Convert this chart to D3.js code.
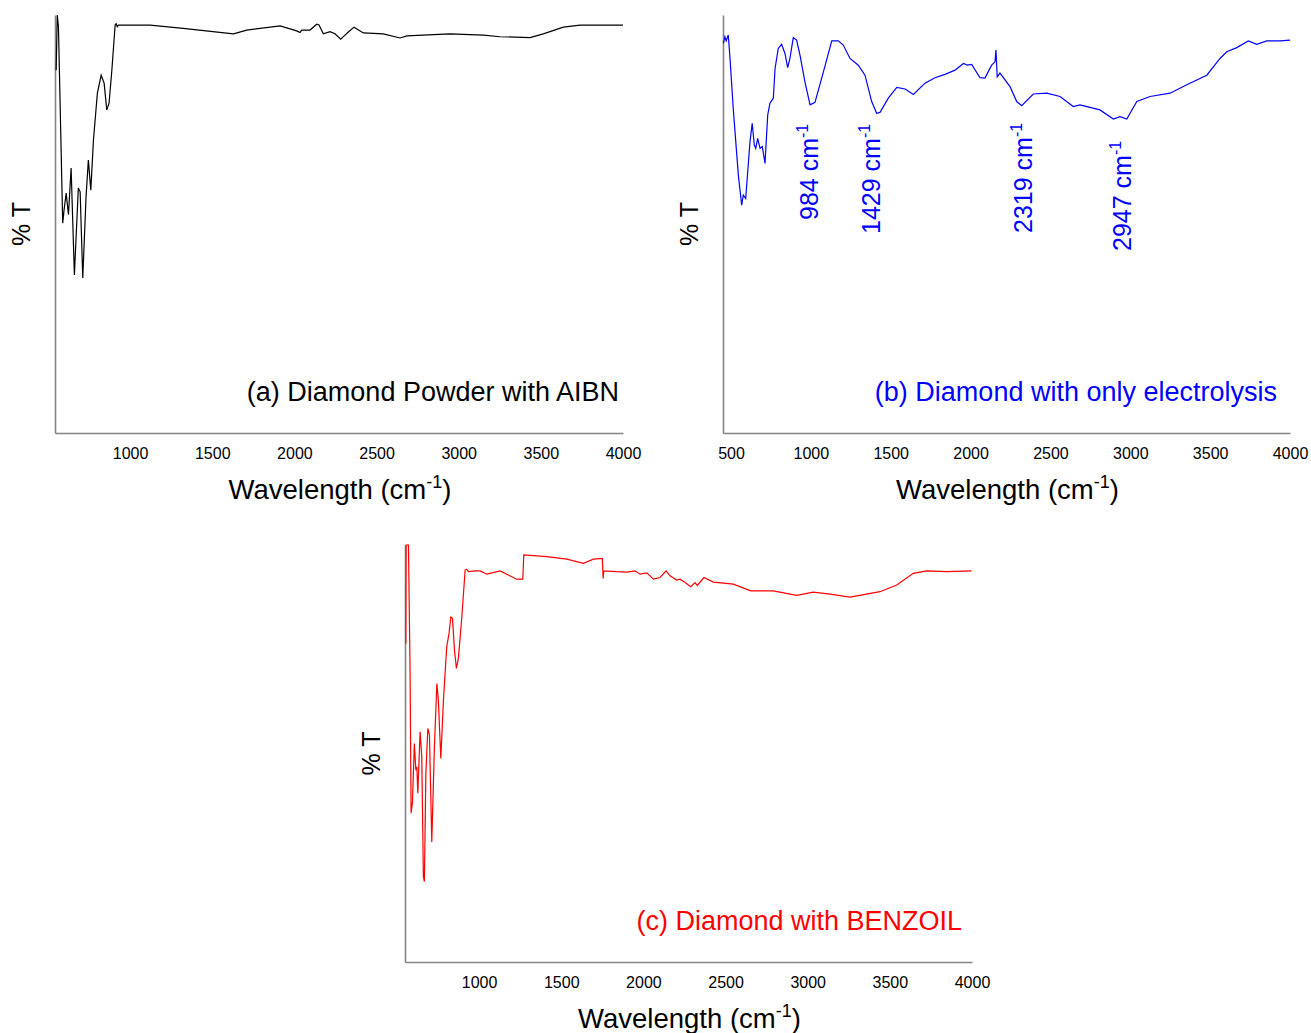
<!DOCTYPE html>
<html>
<head>
<meta charset="utf-8">
<script src="https://cdn.jsdelivr.net/npm/d3@7"></script>
<style>
  body { margin: 0; background: #fff; }
  svg { display: block; font-family: "Liberation Sans", Arial, sans-serif; }
</style>
</head>
<body>
<svg width="1311" height="1033"></svg>
<script>
const width = 1311;
const height = 1033;

// (a) Diamond Powder with AIBN
const aWave = [550, 557, 564, 590, 598, 611, 625, 641, 661, 685, 696, 712, 732, 746, 761, 777, 801, 824, 842, 858, 872, 889, 909, 915, 922, 929,
  1122, 1323, 1629, 1710, 1913, 2014, 2034, 2045, 2095, 2136, 2150, 2176, 2217, 2247, 2282, 2308, 2330, 2363, 2420, 2541, 2643, 2684,
  2947, 3150, 3252, 3434, 3515, 3637, 3739, 4000];
const aT = [86.8, 100, 97.2, 50.2, 53.3, 57.4, 52.2, 63.4, 37.8, 58.6, 57.7, 37.1, 56.5, 65.3, 58.1, 70.1, 81.3, 85.6, 83.7, 77.3, 78.9, 86.8, 97.6, 97.9, 97.2, 97.6,
  97.6, 96.8, 95.5, 96.4, 97.4, 96.2, 95.8, 96.4, 96.4, 97.8, 97.6, 95.5, 96.0, 95.5, 94.2, 95.2, 96.0, 97.1, 95.7, 95.5, 94.5, 95.0,
  95.5, 95.2, 94.8, 94.6, 95.5, 97.1, 97.6, 97.6];

// (b) Diamond with only electrolysis
const bWave = [452, 462, 470, 483, 494, 514, 546, 567, 577, 592, 608, 619, 633, 646, 655, 667, 682, 696, 713, 730, 744, 765, 776, 796, 817, 838, 855, 869, 890, 911,
  932, 963, 995, 1026, 1068, 1131, 1172, 1203, 1245, 1297, 1339, 1381, 1412, 1433, 1485, 1538, 1590, 1642, 1715, 1777, 1840, 1903, 1955, 1980, 2007,
  2059, 2090, 2132, 2153, 2159, 2167, 2184, 2248, 2289, 2320, 2393, 2477, 2560, 2643, 2685, 2810, 2894, 2936, 2978, 3041, 3124, 3249, 3354, 3479,
  3562, 3604, 3667, 3739, 3792, 3854, 3938, 4000];
const bT = [93.2, 94.8, 93.8, 95.2, 89.6, 77.7, 61.7, 54.5, 56.9, 56.1, 64.1, 69.7, 74.1, 68.9, 68.1, 70.5, 68.1, 68.5, 64.5, 76.1, 78.9, 80.1, 87.2, 92.0, 93.0, 90.8, 87.4, 89.6, 94.6, 94.0,
  90.4, 84.0, 78.5, 79.1, 84.9, 93.8, 93.8, 92.8, 89.6, 88.0, 85.6, 79.3, 76.5, 76.7, 80.1, 82.7, 82.3, 81.0, 83.7, 85.0, 85.8, 86.8, 88.4, 88.0, 88.2,
  85.0, 84.9, 88.0, 88.8, 91.6, 85.2, 86.1, 82.8, 79.3, 78.3, 81.1, 81.3, 80.5, 78.1, 78.5, 77.3, 75.1, 75.7, 75.1, 79.3, 80.5, 81.3, 83.3, 85.6,
  89.6, 91.2, 92.2, 93.8, 93.0, 93.8, 93.8, 94.0];

// (c) Diamond with BENZOIL
const cWave = [554, 556, 570, 580, 586, 594, 606, 615, 621, 627, 641, 651, 661, 667, 676, 688, 698, 712, 728, 743, 752, 767, 783, 803, 817, 828, 838, 850, 862, 874,
  895, 915, 925, 935, 976, 1006, 1047, 1128, 1229, 1266, 1272, 1412, 1534, 1635, 1696, 1750, 1755, 1759, 1838, 1899, 1949, 1980, 2021, 2061, 2101,
  2138, 2162, 2203, 2223, 2254, 2288, 2314, 2328, 2369, 2426, 2548, 2653, 2791, 2933, 3034, 3136, 3258, 3440, 3542, 3643, 3724, 3846, 3998];
const cT = [76.4, 100, 100, 69.3, 35.7, 38.1, 52.4, 46.0, 46.8, 40.5, 55.2, 49.2, 20.5, 19.3, 45.3, 56.0, 54.4, 28.8, 51.6, 66.8, 62.8, 48.8, 62.8, 75.6, 78.8, 82.7, 82.4, 74.8, 70.4, 72.8,
  82.8, 94.0, 94.2, 93.6, 93.8, 93.8, 93.0, 93.8, 91.8, 91.8, 97.6, 97.2, 96.6, 95.6, 96.6, 96.8, 92.0, 93.8, 93.6, 93.5, 93.8, 93.0, 93.3, 91.8, 92.2,
  93.8, 92.6, 91.6, 91.8, 91.0, 90.0, 91.0, 90.3, 92.2, 91.1, 90.6, 89.0, 89.0, 87.9, 88.7, 88.2, 87.5, 88.8, 90.4, 93.2, 93.8, 93.6, 93.8];

const ticksAC = [1000, 1500, 2000, 2500, 3000, 3500, 4000];
const ticksB = [500, 1000, 1500, 2000, 2500, 3000, 3500, 4000];

const peakWaves = [984, 1429, 2319, 2947];
const peakNames = ["984", "1429", "2319", "2947"];

const svg = d3.select("svg");

function drawPanel(p) {
    const x = d3.scaleLinear().domain(p.xDomain).range([p.left, p.right]);
    const y = d3.scaleLinear().domain([0, 100]).range([p.bottom, p.top]);
    const g = svg.append("g");

    const xAxis = g.append("g")
        .attr("transform", `translate(0,${p.bottom})`)
        .call(d3.axisBottom(x).tickValues(p.ticks).tickSize(0).tickSizeOuter(0).tickPadding(15).tickFormat(d3.format("d")));
    xAxis.select(".domain").attr("stroke", "#858585").attr("stroke-width", 1.6);
    xAxis.selectAll("text").attr("font-size", 16).attr("fill", "#000").attr("font-family", "Liberation Sans, Arial, sans-serif");

    const yAxis = g.append("g")
        .attr("transform", `translate(${p.left},0)`)
        .call(d3.axisLeft(y).tickValues([]).tickSizeOuter(0));
    yAxis.select(".domain").attr("stroke", "#858585").attr("stroke-width", 1.6);

    const line = d3.line()
        .x((d, i) => x(p.wave[i]))
        .y(d => y(d));
    g.append("path")
        .datum(p.vals)
        .attr("fill", "none")
        .attr("stroke", p.color)
        .attr("stroke-width", 1.2)
        .attr("d", line);

    // x title
    const t = g.append("text")
        .attr("x", (p.left + p.right) / 2 + 1)
        .attr("y", p.bottom + 66)
        .attr("text-anchor", "middle")
        .attr("font-size", 27.5)
        .text("Wavelength (cm");
    t.append("tspan").attr("font-size", 18).attr("dy", -11).text("-1");
    t.append("tspan").attr("dy", 11).text(")");

    // y title
    g.append("text")
        .attr("transform", `translate(${p.left - 25},${(p.top + p.bottom) / 2}) rotate(-90)`)
        .attr("text-anchor", "middle")
        .attr("font-size", 25)
        .text("% T");

    g.append("text")
        .attr("x", p.labelX)
        .attr("y", p.bottom - 32)
        .attr("text-anchor", "end")
        .attr("font-size", 27)
        .attr("fill", p.color)
        .text(p.label);

    return x;
}

drawPanel({ left: 55, right: 623, top: 15, bottom: 433, xDomain: [543, 4000], ticks: ticksAC,
    wave: aWave, vals: aT, color: "#000", label: "(a) Diamond Powder with AIBN", labelX: 619 });

const xb = drawPanel({ left: 723, right: 1290, top: 15, bottom: 433, xDomain: [450, 4000], ticks: ticksB,
    wave: bWave, vals: bT, color: "#0000ff", label: "(b) Diamond with only electrolysis", labelX: 1277 });

drawPanel({ left: 405, right: 972, top: 545, bottom: 962, xDomain: [549, 4000], ticks: ticksAC,
    wave: cWave, vals: cT, color: "#ff0000", label: "(c) Diamond with BENZOIL", labelX: 962 });

// peak labels in panel (b)
const peakDx = [10, 1, 10, 9];
const peakBase = [220, 234, 233, 251];
peakWaves.forEach((w, i) => {
    const t = svg.append("text")
        .attr("transform", `translate(${xb(w) + peakDx[i]},${peakBase[i]}) rotate(-90)`)
        .attr("font-size", 25)
        .attr("fill", "#0000ff")
        .text(peakNames[i] + " cm");
    t.append("tspan").attr("font-size", 16).attr("dy", -10).text("-1");
});
</script>
</body>
</html>
